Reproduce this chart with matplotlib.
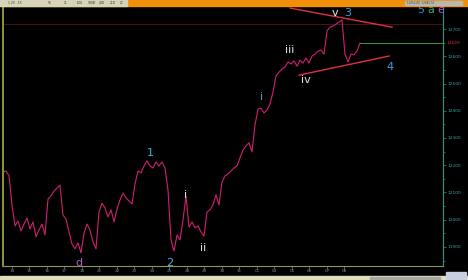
import matplotlib
matplotlib.use("Agg")
import matplotlib.pyplot as plt
from matplotlib.patches import Rectangle
import numpy as np

# ---- data ----
prices = [12175, 12179, 12161, 12054, 11977, 11995, 11959, 11984, 12006, 11966,
          11992, 11937, 11962, 11984, 11944, 12076, 12087, 12105, 12116, 12127,
          12017, 12003, 11955, 11911, 11893, 11915, 11878, 11951, 11984, 11962,
          11918, 11893, 12028, 12061, 12043, 12010, 12036, 11992, 12039, 12072,
          12098, 12080, 12069, 12058, 12131, 12179, 12172, 12197, 12216, 12197,
          12190, 12212, 12197, 12212, 12190, 12109, 11926, 11885, 11944, 11926,
          11999, 12087, 11973, 11992, 11970, 11977, 11955, 11940, 12028, 12036,
          12054, 12091, 12054, 12139, 12161, 12168, 12179, 12190, 12197, 12227,
          12256, 12271, 12282, 12249, 12348, 12406, 12410, 12392, 12403, 12425,
          12469, 12528, 12542, 12553, 12561, 12579, 12572, 12583, 12564, 12586,
          12575, 12594, 12575, 12601, 12608, 12619, 12623, 12608, 12693, 12707,
          12711, 12718, 12726, 12733, 12608, 12579, 12608, 12605, 12619, 12649]

y_ticks = [11900, 12000, 12100, 12200, 12300, 12400, 12500, 12600, 12700]
x_tick_labels = ['14', '15', '16', '17', '18', '21', '22', '23', '24', '25',
                 '28', '29', '30', '31', '01', '04', '05', '06', '07', '08']
resistance_level = 12718

# wave labels: (text, bar index, price, color)
wave_labels = [
    ("v", 110.7, 12759, "#e8e8e8"),
    ("3", 115.0, 12759, "#3aa0e0"),
    ("iii", 95.7, 12623, "#e0e0e0"),
    ("iv", 101.0, 12513, "#e0e0e0"),
    ("4", 129.0, 12561, "#3aa0e0"),
    ("i", 86.3, 12450, "#3aa0e0"),
    ("1", 49.0, 12245, "#40b8d8"),
    ("i", 61.0, 12091, "#e0e0e0"),
    ("ii", 66.7, 11896, "#e0e0e0"),
    ("2", 55.7, 11841, "#40b8d8"),
    ("d", 25.3, 11841, "#b060c0"),
]
upper_trend_x = [95.7, 129.7]
upper_trend_y = [12777, 12707]
lower_trend_x = [98.7, 128.7]
lower_trend_y = [12531, 12601]

# ---- figure ----
W, H = 468, 280
fig = plt.figure(figsize=(W / 100, H / 100), dpi=100, facecolor="black")

ax = fig.add_axes([3 / W, 14 / H, 440 / W, 259 / H], facecolor="black")
x = np.arange(len(prices))
x_max = 146.67
ax.set_xlim(0, x_max)
ax.set_ylim(11830, 12781)

ax.axhline(resistance_level, color="#5a1212", lw=0.6)
ax.plot(x, prices, color="#d02070", lw=0.8)
ax.plot([x[-1], x_max], [prices[-1], prices[-1]], color="#3a9a3a", lw=0.7)
ax.plot(upper_trend_x, upper_trend_y, color="#e03048", lw=1.0)
ax.plot(lower_trend_x, lower_trend_y, color="#e03048", lw=1.0)

for txt, xi, yi, col in wave_labels:
    ax.text(xi, yi, txt, color=col, fontsize=8, ha="center", va="center")

# spines
for s in ["top"]:
    ax.spines[s].set_visible(False)
ax.spines["left"].set_color("#a0b040")
ax.spines["left"].set_linewidth(1.2)
ax.spines["right"].set_color("#1a9a8a")
ax.spines["right"].set_linewidth(0.8)
ax.spines["bottom"].set_color("#8a9a50")
ax.spines["bottom"].set_linewidth(0.8)

ax.yaxis.tick_right()
ax.set_yticks(y_ticks)
ax.set_yticklabels([str(v) for v in y_ticks])
ax.set_yticks([v + 50 for v in y_ticks[:-1]] + [11850], minor=True)
ax.tick_params(axis="y", which="both", colors="#1a9a8a", labelcolor="#30a8a0",
               labelsize=3.2, length=2, width=0.5, pad=1, direction="out")
ax.tick_params(axis="y", which="minor", length=1.2)

tick_pos = [3 + 5.833 * i for i in range(len(x_tick_labels))]
ax.set_xticks(tick_pos)
ax.set_xticklabels(x_tick_labels)
ax.tick_params(axis="x", colors="#708090", labelcolor="#7a8aa0", labelsize=3,
               length=2, width=0.5, pad=0.5, direction="out")

# last price label
ax.text(x_max + 1.2, prices[-1], f"{prices[-1]}", color="#e03040", fontsize=3.2,
        va="center", ha="left", clip_on=False)

# top bar
fig.patches.append(Rectangle((0, 1 - 6 / H), 1, 6 / H, transform=fig.transFigure,
                             color="#f0900a", zorder=5))
fig.patches.append(Rectangle((0, 1 - 6 / H), 127 / W, 6 / H, transform=fig.transFigure,
                             color="#d8d4b8", zorder=6))
fig.patches.append(Rectangle((405 / W, 1 - 5 / H), 57 / W, 4 / H, transform=fig.transFigure,
                             color="#b8b8b0", zorder=6))
for xt, t in [(8, "1.20  .13"), (48, "15"), (64, "1L"), (77, "LOG"), (88, "100B"),
              (99, "20D"), (110, "21D"), (120, "2Y")]:
    fig.text(xt / W, 1 - 3 / H, t, fontsize=2.2, color="#303030", va="center", zorder=7)
fig.text(407 / W, 1 - 3 / H, "12652.00  12645.50", fontsize=2, color="#404040",
         va="center", zorder=7)

# "5 a e" header labels
for xt, t, c in [(421, "5", "#3a8ad0"), (431, "a", "#30b070"), (441, "e", "#b050d0")]:
    fig.text(xt / W, 1 - 10 / H, t, fontsize=8, color=c, ha="center", va="center")

# bottom strip
fig.patches.append(Rectangle((0, 0), 1, 4 / H, transform=fig.transFigure,
                             color="#e0dcc0", zorder=5))
fig.patches.append(Rectangle((370 / W, 0.5 / H), 70 / W, 3 / H, transform=fig.transFigure,
                             color="#a8a8a0", zorder=6))
fig.patches.append(Rectangle((446 / W, 0), 20 / W, 8 / H, transform=fig.transFigure,
                             color="#c8d0e0", zorder=6))

fig.savefig("out.png", dpi=100, facecolor="black")
